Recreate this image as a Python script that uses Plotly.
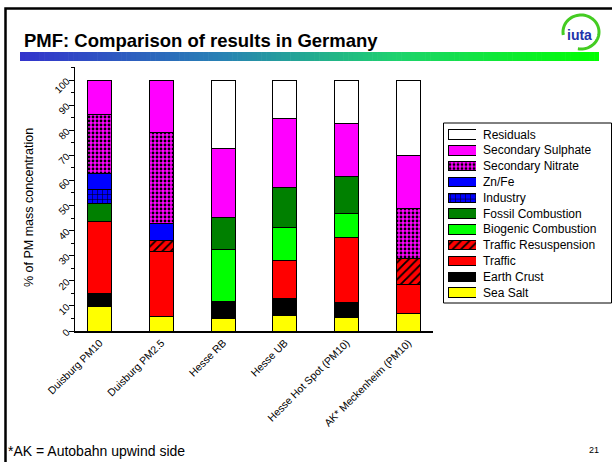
import math
import plotly.graph_objects as go

W, H = 612, 462

categories = ["Duisburg PM10", "Duisburg PM2.5", "Hesse RB", "Hesse UB",
              "Hesse Hot Spot (PM10)", "AK* Meckenheim (PM10)"]

sea_salt       = [9.7, 5.7, 5.0, 6.1, 5.4, 6.8]
earth_crust    = [5.3, None, 6.7, 6.9, 6.0, None]
traffic        = [28.6, 25.9, None, 15.2, 25.9, 11.9]
traffic_resusp = [None, 4.3, None, None, None, 10.3]
biogenic       = [None, None, 20.8, 13.1, 9.4, None]
fossil         = [7.3, None, 12.7, 15.9, 14.7, None]
industry       = [5.3, None, None, None, None, None]
zn_fe          = [6.6, 7.0, None, None, None, None]
nitrate        = [23.3, 36.3, None, None, None, 20.0]
sulphate       = [13.9, 20.8, 27.4, 27.5, 21.1, 21.0]
residuals      = [None, None, 27.4, 15.3, 17.5, 30.0]

series_names = ["Sea Salt", "Earth Crust", "Traffic", "Traffic Resuspension",
                "Biogenic Combustion", "Fossil Combustion", "Industry", "Zn/Fe",
                "Secondary Nitrate", "Secondary Sulphate", "Residuals"]
series_values = [sea_salt, earth_crust, traffic, traffic_resusp, biogenic,
                 fossil, industry, zn_fe, nitrate, sulphate, residuals]

styles = {
    "Sea Salt": dict(color="#ffff00"),
    "Earth Crust": dict(color="#000000"),
    "Traffic": dict(color="#ff0000"),
    "Traffic Resuspension": dict(color="#ff0000",
                                 pattern=dict(shape="/", fgcolor="#000000", bgcolor="#ff0000",
                                              size=6, solidity=0.3, fillmode="replace")),
    "Biogenic Combustion": dict(color="#00ff00"),
    "Fossil Combustion": dict(color="#008000"),
    "Industry": dict(color="#0000ff",
                     pattern=dict(shape="+", fgcolor="#000000", bgcolor="#0000ff",
                                  size=5, solidity=0.2, fillmode="replace")),
    "Zn/Fe": dict(color="#0000ff"),
    "Secondary Nitrate": dict(color="#ff00ff",
                              pattern=dict(shape=".", fgcolor="#000000", bgcolor="#ff00ff",
                                           size=4, solidity=0.4, fillmode="replace")),
    "Secondary Sulphate": dict(color="#ff00ff"),
    "Residuals": dict(color="#ffffff"),
}


def px(x):
    return x / W


def py(y):
    return 1 - y / H


fig = go.Figure()

# main stacked bars
for name, vals in zip(series_names, series_values):
    st = styles[name]
    marker = dict(color=st["color"], line=dict(color="#000000", width=1))
    if "pattern" in st:
        marker["pattern"] = st["pattern"]
    fig.add_trace(go.Bar(x=categories, y=vals, name=name, marker=marker,
                         width=0.39, showlegend=False, xaxis="x", yaxis="y"))

# legend swatches (separate small axes)
for name in series_names:
    st = styles[name]
    marker = dict(color=st["color"], line=dict(color="#000000", width=1))
    if "pattern" in st:
        marker["pattern"] = st["pattern"]
    fig.add_trace(go.Bar(x=[1], y=[name], base=0, orientation="h", marker=marker,
                         width=0.6, showlegend=False, xaxis="x2", yaxis="y2",
                         hoverinfo="skip"))

font_family = "Liberation Sans, Arial, sans-serif"

annotations = []
for name in series_names:
    annotations.append(dict(x=px(481), y=name, xref="paper", yref="y2", text=name,
                            showarrow=False, xanchor="left", yanchor="middle",
                            font=dict(size=12, color="#000000", family=font_family)))

annotations += [
    dict(x=px(22), y=py(40.5), xref="paper", yref="paper",
         text="<b>PMF: Comparison of results in Germany</b>", showarrow=False,
         xanchor="left", yanchor="middle",
         font=dict(size=18.5, color="#000000", family=font_family)),
    dict(x=px(29), y=py(208), xref="paper", yref="paper",
         text="% of PM mass concentration", textangle=-90, showarrow=False,
         xanchor="center", yanchor="middle",
         font=dict(size=12.5, color="#000000", family=font_family)),
    dict(x=px(6), y=py(451), xref="paper", yref="paper",
         text="*AK = Autobahn upwind side", showarrow=False,
         xanchor="left", yanchor="middle",
         font=dict(size=14, color="#000000", family=font_family)),
    dict(x=px(594), y=py(450), xref="paper", yref="paper",
         text="21", showarrow=False, xanchor="center", yanchor="middle",
         font=dict(size=9, color="#000000", family=font_family)),
    dict(x=px(579), y=py(35), xref="paper", yref="paper",
         text="<b>iuta</b>", showarrow=False, xanchor="center", yanchor="middle",
         font=dict(size=14, color="#2233aa", family=font_family)),
]

shapes = []
# slide border
shapes.append(dict(type="rect", xref="paper", yref="paper",
                   x0=px(5.5), x1=px(700), y0=py(600), y1=py(8.5),
                   line=dict(color="#000000", width=2.5), fillcolor="rgba(0,0,0,0)",
                   layer="below"))
# gradient bar
stops = [(0.0, (51, 51, 204)), (0.35, (40, 130, 180)), (0.65, (30, 210, 110)), (1.0, (0, 255, 0))]


def grad(t):
    for (t0, c0), (t1, c1) in zip(stops[:-1], stops[1:]):
        if t0 <= t <= t1:
            f = (t - t0) / (t1 - t0)
            return "rgb(%d,%d,%d)" % tuple(round(a + (b - a) * f) for a, b in zip(c0, c1))
    return "rgb(0,255,0)"


gx0, gx1, N = 20, 599, 120
for i in range(N):
    a = gx0 + (gx1 - gx0) * i / N
    b = gx0 + (gx1 - gx0) * (i + 1) / N + 0.6
    shapes.append(dict(type="rect", xref="paper", yref="paper",
                       x0=px(a), x1=px(min(b, gx1)), y0=py(61), y1=py(52),
                       line=dict(width=0), fillcolor=grad((i + 0.5) / N), layer="below"))

# logo arc
cx, cy, rx, ry = 581, 32, 18, 17
pts = []
for k in range(0, 61):
    t = math.radians(-100 + 290 * k / 60)
    pts.append((px(cx + rx * math.cos(t)), py(cy - ry * math.sin(t))))
path = "M " + " L ".join("%.5f,%.5f" % p for p in pts)
shapes.append(dict(type="path", xref="paper", yref="paper", path=path,
                   line=dict(color="#44cc22", width=3)))

# legend box
shapes.append(dict(type="rect", xref="paper", yref="paper",
                   x0=px(443.5), x1=px(611.5), y0=py(303), y1=py(123),
                   line=dict(color="#000000", width=1), fillcolor="rgba(0,0,0,0)"))

fig.update_layout(
    template="none",
    width=W, height=H,
    margin=dict(l=0, r=0, t=0, b=0, pad=0, autoexpand=False),
    paper_bgcolor="#ffffff", plot_bgcolor="rgba(0,0,0,0)",
    barmode="stack",
    showlegend=False,
    font=dict(family=font_family, color="#000000"),
    xaxis=dict(domain=[px(75), px(433)], range=[-0.4, 5.4], type="category",
               categoryorder="array", categoryarray=categories,
               showline=True, linecolor="#000000", linewidth=1.5, ticks="",
               showgrid=False, zeroline=False, tickangle=-45, automargin=False,
               tickfont=dict(size=10.5, family=font_family, color="#000000"),
               anchor="y", fixedrange=True),
    yaxis=dict(domain=[py(331), py(67)], range=[0, 105.2],
               showline=True, linecolor="#000000", linewidth=1,
               ticks="outside", ticklen=5, tickcolor="#000000", dtick=10, tick0=0,
               minor=dict(dtick=5, ticks="outside", ticklen=3, tickcolor="#000000"),
               showgrid=False, zeroline=False, tickangle=-45, automargin=False,
               tickfont=dict(size=10, family=font_family, color="#000000"),
               anchor="x", fixedrange=True),
    xaxis2=dict(domain=[px(448), px(476)], range=[0, 1], visible=False,
                anchor="y2", fixedrange=True, automargin=False),
    yaxis2=dict(domain=[py(300.6), py(126.6)], type="category",
                categoryorder="array", categoryarray=series_names,
                range=[-0.5, 10.5], visible=False, anchor="x2", fixedrange=True,
                automargin=False),
    annotations=annotations,
    shapes=shapes,
)

fig.write_html("out.html")
